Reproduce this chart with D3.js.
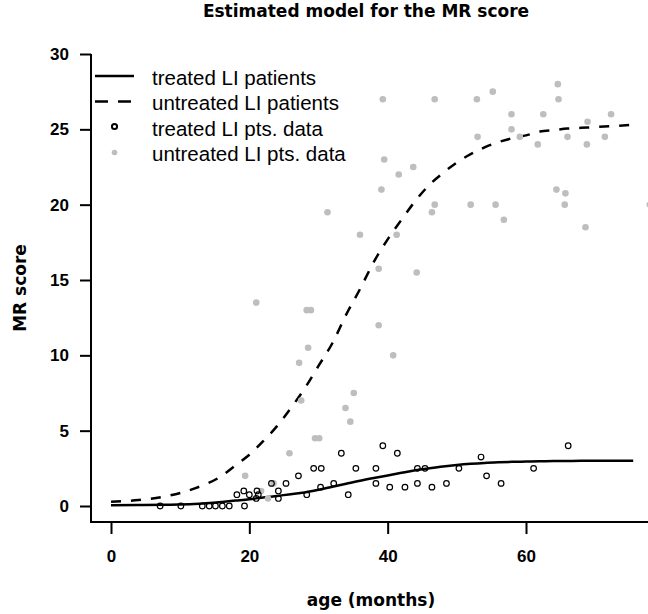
<!DOCTYPE html>
<html>
<head>
<meta charset="utf-8">
<script src="https://cdn.jsdelivr.net/npm/d3@7"></script>
<style>
  html, body { margin: 0; padding: 0; background: #fff; }
  svg { display: block; }
</style>
</head>
<body>
<svg id="chart" width="648" height="614"></svg>
<script>
// Model curves: age (months) and fitted MR score
const curveAges = [0, 4, 8, 12, 16, 18, 20, 22, 24, 26, 28, 30, 32, 34, 36, 38, 40, 42, 44, 46, 48, 50, 52, 54, 56, 58, 60, 62, 64, 66, 68, 70, 72, 74, 75.5];
const treatedFit = [0.05, 0.06, 0.08, 0.13, 0.27, 0.36, 0.45, 0.56, 0.67, 0.78, 0.9, 1.08, 1.28, 1.48, 1.68, 1.86, 2.03, 2.2, 2.37, 2.5, 2.62, 2.72, 2.8, 2.86, 2.9, 2.93, 2.95, 2.97, 2.98, 2.99, 3.0, 3.0, 3.0, 3.0, 3.0];
const untreatedFit = [0.28, 0.4, 0.65, 1.15, 2.0, 2.7, 3.4, 4.3, 5.3, 6.5, 7.8, 9.3, 10.8, 12.7, 14.4, 16.2, 17.7, 19.0, 20.25, 21.3, 22.1, 22.8, 23.35, 23.8, 24.15, 24.4, 24.6, 24.85, 24.95, 25.05, 25.1, 25.15, 25.2, 25.25, 25.3];

// Observed data: treated patients
const treatedAge = [7.1, 10.1, 13.2, 14.2, 15.1, 16.1, 17.1, 19.3, 18.2, 19.2, 20.0, 21.1, 21.3, 21.0, 23.2, 24.2, 24.2, 25.3, 27.1, 28.3, 29.3, 30.4, 30.3, 32.2, 33.3, 34.3, 35.4, 38.3, 38.3, 39.3, 40.3, 41.4, 42.5, 44.3, 45.4, 44.3, 46.4, 48.5, 50.3, 53.5, 54.3, 56.4, 61.1, 66.1];
const treatedScore = [0, 0, 0, 0, 0, 0, 0, 0, 0.75, 1.0, 0.75, 1.0, 0.75, 0.5, 1.5, 1.0, 0.5, 1.5, 2.0, 0.75, 2.5, 2.5, 1.25, 1.5, 3.5, 0.75, 2.5, 2.5, 1.5, 4.0, 1.25, 3.5, 1.25, 2.5, 2.5, 1.5, 1.25, 1.5, 2.5, 3.25, 2.0, 1.5, 2.5, 4.0];

// Observed data: untreated patients
const untreatedAge = [19.4, 21.7, 22.7, 23.5, 25.8, 29.5, 30.1, 33.9, 34.6, 27.5, 35.1, 27.2, 28.5, 40.8, 38.7, 28.3, 28.9, 21.0, 38.7, 44.2, 36.0, 41.3, 31.3, 39.1, 41.6, 43.7, 39.5, 46.8, 46.4, 52.0, 55.6, 56.8, 39.3, 46.8, 52.9, 55.2, 53.0, 64.6, 64.7, 57.9, 62.5, 72.3, 68.9, 57.9, 59.1, 66.0, 71.4, 61.7, 68.8, 64.4, 65.7, 65.6, 68.6, 77.9];
const untreatedScore = [2.0, 1.0, 0.5, 1.5, 3.5, 4.5, 4.5, 6.5, 5.6, 7.0, 7.5, 9.5, 10.5, 10.0, 12.0, 13.0, 13.0, 13.5, 15.75, 15.5, 18.0, 18.0, 19.5, 21.0, 22.0, 22.5, 23.0, 20.0, 19.5, 20.0, 20.0, 19.0, 27.0, 27.0, 27.0, 27.5, 24.5, 28.0, 27.0, 26.0, 26.0, 26.0, 25.5, 25.0, 24.5, 24.5, 24.5, 24.0, 24.0, 21.0, 20.75, 20.0, 18.5, 20.0];

// Axis ticks and labels
const xTicks = [0, 20, 40, 60];
const yTicks = [0, 5, 10, 15, 20, 25, 30];
const legendLabels = ["treated LI patients", "untreated LI patients", "treated LI pts. data", "untreated LI pts. data"];
const titleText = "Estimated model for the MR score";
const xTitle = "age (months)";
const yTitle = "MR score";

const svg = d3.select("#chart");
const GREY = "#bebebe";
const boxLeft = 91, boxBottom = 522, boxRight = 648;

const x = d3.scaleLinear().domain([0, 60]).range([111, 526]);
const y = d3.scaleLinear().domain([0, 30]).range([506, 54]);

// Title
svg.append("text")
  .attr("x", 366).attr("y", 17)
  .attr("text-anchor", "middle")
  .style("font-family", "'DejaVu Sans', sans-serif")
  .style("font-weight", "bold")
  .style("font-size", "17px")
  .text(titleText);

// L-shaped frame
svg.append("path")
  .attr("d", `M${boxLeft},${y(30)}V${boxBottom}H${boxRight}`)
  .attr("fill", "none").attr("stroke", "#000").attr("stroke-width", 2);

// Y axis
const yAxis = svg.append("g")
  .attr("transform", `translate(${boxLeft},0)`)
  .call(d3.axisLeft(y).tickValues(yTicks).tickSize(11).tickPadding(11).tickSizeOuter(0));
yAxis.select(".domain").remove();

// X axis
const xAxis = svg.append("g")
  .attr("transform", `translate(0,${boxBottom})`)
  .call(d3.axisBottom(x).tickValues(xTicks).tickSize(12).tickPadding(16).tickSizeOuter(0));
xAxis.select(".domain").remove();

[yAxis, xAxis].forEach(g => {
  g.selectAll(".tick line").attr("stroke", "#000").attr("stroke-width", 2);
  g.selectAll(".tick text")
    .attr("fill", "#000")
    .style("font-family", "'Liberation Sans', Arial, sans-serif")
    .style("font-weight", "bold")
    .style("font-size", "17px");
});

// Axis titles
svg.append("text")
  .attr("x", 371).attr("y", 606)
  .attr("text-anchor", "middle")
  .style("font-family", "'DejaVu Sans', sans-serif")
  .style("font-weight", "bold")
  .style("font-size", "17px")
  .text(xTitle);

svg.append("text")
  .attr("transform", `translate(26,${(y(30) + boxBottom) / 2}) rotate(-90)`)
  .attr("text-anchor", "middle")
  .style("font-family", "'DejaVu Sans', sans-serif")
  .style("font-weight", "bold")
  .style("font-size", "17px")
  .text(yTitle);

// Fitted curves
const line = d3.line().x(d => x(d[0])).y(d => y(d[1])).curve(d3.curveMonotoneX);
const untreatedPts = curveAges.map((a, i) => [a, untreatedFit[i]]);
const treatedPts = curveAges.map((a, i) => [a, treatedFit[i]]);

svg.append("path")
  .datum(untreatedPts)
  .attr("d", line)
  .attr("fill", "none").attr("stroke", "#000")
  .attr("stroke-width", 2.5).attr("stroke-dasharray", "10,10");

svg.append("path")
  .datum(treatedPts)
  .attr("d", line)
  .attr("fill", "none").attr("stroke", "#000")
  .attr("stroke-width", 2.5);

// Untreated observations (grey dots)
svg.append("g").selectAll("circle")
  .data(untreatedAge.map((a, i) => [a, untreatedScore[i]]))
  .join("circle")
  .attr("cx", d => x(d[0])).attr("cy", d => y(d[1]))
  .attr("r", 3.3).attr("fill", GREY);

// Treated observations (open circles)
svg.append("g").selectAll("circle")
  .data(treatedAge.map((a, i) => [a, treatedScore[i]]))
  .join("circle")
  .attr("cx", d => x(d[0])).attr("cy", d => y(d[1]))
  .attr("r", 2.8).attr("fill", "none")
  .attr("stroke", "#000").attr("stroke-width", 1.2);

// Legend
const legend = svg.append("g");
const rowY = [77.5, 103, 128.5, 154];
legend.append("line").attr("x1", 95).attr("x2", 134).attr("y1", rowY[0] - 1.5).attr("y2", rowY[0] - 1.5)
  .attr("stroke", "#000").attr("stroke-width", 2.5);
legend.append("line").attr("x1", 95).attr("x2", 131).attr("y1", rowY[1] - 1.5).attr("y2", rowY[1] - 1.5)
  .attr("stroke", "#000").attr("stroke-width", 2.5).attr("stroke-dasharray", "13,10");
legend.append("circle").attr("cx", 114.5).attr("cy", rowY[2] - 2).attr("r", 2.6)
  .attr("fill", "none").attr("stroke", "#000").attr("stroke-width", 2);
legend.append("circle").attr("cx", 114.5).attr("cy", rowY[3] - 1.5).attr("r", 2.8)
  .attr("fill", GREY);
legend.selectAll("text")
  .data(legendLabels)
  .join("text")
  .attr("x", 152).attr("y", (d, i) => rowY[i])
  .attr("dy", "0.35em")
  .style("font-family", "'Liberation Sans', Arial, sans-serif")
  .style("font-size", "20.5px")
  .attr("fill", "#000")
  .text(d => d);
</script>
</body>
</html>
